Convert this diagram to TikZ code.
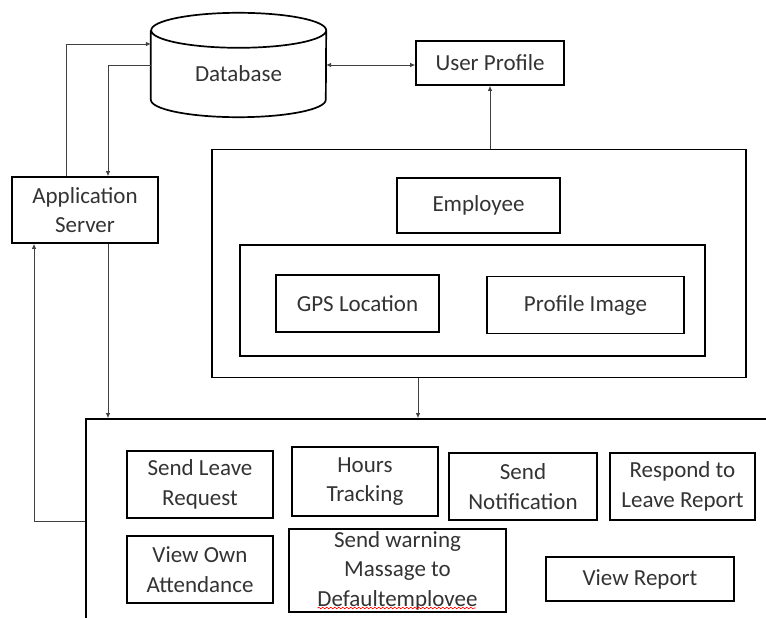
\documentclass[tikz,border=0pt]{standalone}
\usepackage{fontspec}
\setmainfont{Carlito}
\usetikzlibrary{arrows.meta,decorations.pathmorphing}
\begin{document}
\begin{tikzpicture}[x=1pt,y=-1pt,
  box/.style={draw, line width=1.7pt, inner sep=0pt, align=center, text=black!80,
    font=\fontsize{23}{29.5}\selectfont},
  lbl/.style={inner sep=0pt, text=black!80, font=\fontsize{23}{29.5}\selectfont},
  conn/.style={line width=0.8pt, draw=black!75},
  arr/.style={conn, -{Latex[length=5pt,width=4.5pt]}},
  darr/.style={conn, {Latex[length=5pt,width=4.5pt]}-{Latex[length=5pt,width=4.5pt]}}]
\useasboundingbox (0,0) rectangle (766,618);
\clip (0,0) rectangle (766,618);
% Database cylinder (invisible frame node)
\node[inner sep=0pt, minimum width=175pt, minimum height=104pt] (db) at (238.5,65) {};
\node[lbl] (dbl) at ([yshift=-9pt]db.center) {Database};
\draw[line width=1.7pt]
  ([yshift=-17.5pt]db.north west) -- ([yshift=17.5pt]db.south west)
  arc[start angle=180, end angle=360, x radius=87.5pt, y radius=17.5pt]
  -- ([yshift=-17.5pt]db.north east)
  arc[start angle=0, end angle=180, x radius=87.5pt, y radius=17.5pt]
  arc[start angle=180, end angle=360, x radius=87.5pt, y radius=17.5pt];
\node[box, minimum width=148pt, minimum height=44pt] (up) at (490,63) {User Profile};
\node[box, minimum width=146pt, minimum height=66pt] (as) at (85,210) {Application\\Server};
% Employee group
\node[box, minimum width=534pt, minimum height=228pt] (eo) at (479,263.5) {};
\node[box, minimum width=163pt, minimum height=55pt] (emp) at (478.5,205.5) {Employee};
\node[box, minimum width=465pt, minimum height=111pt] (ei) at (472.5,300.5) {};
\node[box, minimum width=163pt, minimum height=57pt] (gps) at (357.5,303.5) {GPS Location};
\node[box, minimum width=197pt, minimum height=57pt] (pi) at (585.5,305) {Profile Image};
% Functions box
\node[box, minimum width=705pt, minimum height=231pt] (fb) at (438.5,534.5) {};
\node[box, minimum width=146pt, minimum height=67pt] (slr) at (200,484.5) {Send Leave\\Request};
\node[box, minimum width=146pt, minimum height=69pt] (ht) at (365,481.5) {Hours\\Tracking};
\node[box, minimum width=148pt, minimum height=67pt] (sn) at (523,486.5) {Send\\Notification};
\node[box, minimum width=145pt, minimum height=67pt] (rlr) at (682.5,486.5) {Respond to\\Leave Report};
\node[box, minimum width=146pt, minimum height=67pt] (voa) at (200,569.5) {View Own\\Attendance};
\node[box, minimum width=217pt, minimum height=83pt] (sw) at (397.5,570.5) {Send warning\\Massage to\\Defaultemplovee};
\node[box, minimum width=188pt, minimum height=44pt] (vr) at (640,579) {View Report};
\draw[red, line width=0.6pt, decorate, decoration={snake, amplitude=0.8pt, segment length=4pt}]
  ([xshift=-80pt,yshift=-37.5pt]sw.center) -- ([xshift=78pt,yshift=-37.5pt]sw.center);
% Connectors
\draw[arr] ([xshift=-19pt]as.north) |- ([yshift=21pt]db.west);
\draw[arr] (db.west) -| ([xshift=23pt]as.north);
\draw[darr] (db.east) -- (db.east -| up.west);
\draw[arr] (eo.north -| up.south) -- (up.south);
\draw[arr] ([xshift=23pt]as.south) -- ([xshift=23pt]as.south |- fb.north);
\draw[arr] ([xshift=-61pt]eo.south) -- ([xshift=-61pt]eo.south |- fb.north);
\draw[arr] ([yshift=13.5pt]fb.west) -| ([xshift=-51pt]as.south);
\end{tikzpicture}
\end{document}
